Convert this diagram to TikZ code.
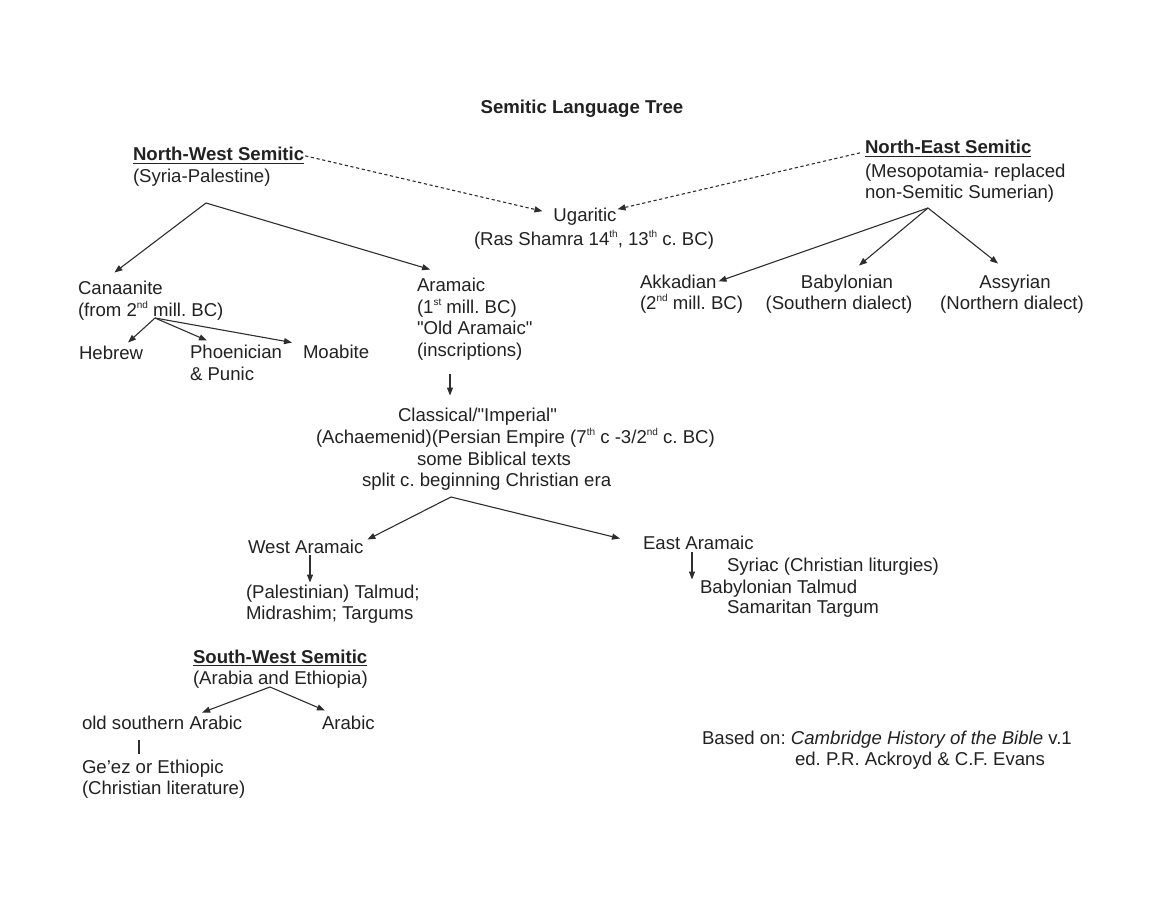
\documentclass[tikz,border=0pt]{standalone}
\usepackage{fontspec}
\setmainfont{Liberation Sans}[Ligatures=TeXOff]
\usetikzlibrary{arrows.meta}
\definecolor{txt}{HTML}{222222}
\definecolor{ln}{HTML}{2E2E2E}
\newcommand\myul[1]{\setbox0\hbox{#1}\rlap{\rule[-3.2pt]{\wd0}{1.3pt}}\box0}
\newcommand\sups[1]{\raisebox{0.42em}{\fontsize{10}{10}\selectfont #1}}
\frenchspacing
\begin{document}
\frenchspacing
\begin{tikzpicture}[x=1pt,y=-1pt,
  every node/.style={inner sep=0pt,outer sep=0pt,text=txt,font=\fontsize{18.6}{21.7}\selectfont\frenchspacing},
  lab/.style={anchor=base west},
  cen/.style={anchor=base},
  head/.style={anchor=base west,font=\fontsize{18.6}{21.7}\selectfont\bfseries},
  arr/.style={draw=ln,line width=1.1pt,-{Triangle[length=8pt,width=6pt]}},
  darr/.style={draw=ln,line width=1.1pt,dash pattern=on 3.2pt off 2.6pt,-{Triangle[length=8pt,width=6pt]}},
  plain/.style={draw=ln,line width=1.3pt}]
\fill[white] (0,0) rectangle (1150,901);
\useasboundingbox (0,0) rectangle (1150,901);

% title
\node[cen,font=\fontsize{18.6}{21.7}\selectfont\bfseries] (title) at (582,114) {Semitic Language Tree};

% North-West
\node[head] (nw) at (133,161) {\myul{North-West Semitic}};
\node[lab] (nw2) at (133,183) {(Syria-Palestine)};
\coordinate (nwb) at (206,203);

% Ugaritic
\node[cen] (ug) at (585,222) {Ugaritic};
\node[cen] (ug2) at (594,245) {(Ras Shamra 14\sups{th}, 13\sups{th} c. BC)};

% North-East
\node[head] (ne) at (865,154) {\myul{North-East Semitic}};
\node[lab] (ne2) at (865,178) {(Mesopotamia- replaced};
\node[lab] (ne3) at (865,199) {non-Semitic Sumerian)};
\coordinate (neb) at (928,208);

\node[lab] (akk) at (640,288) {Akkadian};
\node[lab] (akk2) at (640,309) {(2\sups{nd} mill. BC)};
\node[cen] (bab) at (847,288) {Babylonian};
\node[cen] (bab2) at (839,309) {(Southern dialect)};
\node[cen] (ass) at (1015,288) {Assyrian};
\node[cen] (ass2) at (1012,309) {(Northern dialect)};

% Canaanite
\node[lab] (can) at (78,294) {Canaanite};
\node[lab] (can2) at (78,316) {(from 2\sups{nd} mill. BC)};
\coordinate (canb) at (155,318);
\node[lab] (heb) at (79,359) {Hebrew};
\node[lab] (pho) at (190,358) {Phoenician};
\node[lab] (pho2) at (190,380) {\& Punic};
\node[lab] (moa) at (303,358) {Moabite};

% Aramaic
\node[lab] (ar) at (417,291) {Aramaic};
\node[lab] (ar2) at (417,313) {(1\sups{st} mill. BC)};
\node[lab] (ar3) at (417,334) {"Old Aramaic"};
\node[lab] (ar4) at (417,356) {(inscriptions)};

% Classical
\node[lab] (cl1) at (398,421) {Classical/"Imperial"};
\node[lab] (cl2) at (316,443) {(Achaemenid)(Persian Empire (7\sups{th} c -3/2\sups{nd} c. BC)};
\node[lab] (cl3) at (417,465) {some Biblical texts};
\node[lab] (cl4) at (362,486) {split c. beginning Christian era};
\coordinate (clb) at (451,497);

% West / East Aramaic
\node[lab] (wa) at (248,553) {West Aramaic};
\node[lab] (pt1) at (246,598) {(Palestinian) Talmud;};
\node[lab] (pt2) at (246,619) {Midrashim; Targums};
\node[lab] (ea) at (643,549) {East Aramaic};
\node[lab] (sy) at (727,571) {Syriac (Christian liturgies)};
\node[lab] (bt) at (700,593) {Babylonian Talmud};
\node[lab] (st) at (727,613) {Samaritan Targum};

% South-West
\node[head] (sw) at (193,663) {\myul{South-West Semitic}};
\node[lab] (sw2) at (193,684) {(Arabia and Ethiopia)};
\coordinate (swb) at (270,687);
\node[lab] (osa) at (82,729) {old southern Arabic};
\node[lab] (arb) at (322,729) {Arabic};
\node[lab] (ge) at (82,773) {Ge’ez or Ethiopic};
\node[lab] (ge2) at (82,794) {(Christian literature)};

% source
\node[lab] (src) at (702,744) {Based on: \textit{Cambridge History of the Bible} v.1};
\node[lab] (src2) at (795,765) {ed. P.R. Ackroyd \& C.F. Evans};

% connectors
\draw[darr] ([xshift=1pt]nw.east) -- ([shift={(-11pt,6pt)}]ug.west);
\draw[darr] ([shift={(-5pt,-4pt)}]ne.west) -- ([shift={(1pt,8pt)}]ug.east);

\draw[arr] (nwb) -- ([shift={(-6pt,8pt)}]can.north);
\draw[arr] (nwb) -- ([shift={(-21pt,8pt)}]ar.north);

\draw[arr] (neb) -- ([xshift=2pt]akk.east);
\draw[arr] (neb) -- ([shift={(12pt,9pt)}]bab.north);
\draw[arr] (neb) -- ([shift={(-17pt,11pt)}]ass.north);

\draw[arr] (canb) -- ([shift={(17pt,3pt)}]heb.north);
\draw[arr] (canb) -- ([shift={(-29pt,4pt)}]pho.north);
\draw[arr] (canb) -- ([shift={(-11pt,2pt)}]moa.north west);

\draw[arr] ([shift={(33pt,-14pt)}]ar4.south west) -- ([shift={(52pt,12pt)}]cl1.north west);

\draw[arr] (clb) -- ([shift={(4pt,0pt)}]wa.north east);
\draw[arr] (clb) -- ([shift={(-23pt,-3pt)}]ea.north west);

\draw[arr] ([shift={(62pt,-2pt)}]wa.south west) -- ([shift={(64pt,2pt)}]pt1.north west);
\draw[arr] ([shift={(49pt,-3pt)}]ea.south west) -- ([shift={(-8pt,0pt)}]bt.north west);

\draw[arr] (swb) -- ([shift={(40pt,3pt)}]osa.north);
\draw[arr] (swb) -- ([shift={(3pt,5pt)}]arb.north west);
\draw[plain] ([shift={(57pt,-11pt)}]osa.south west) -- ([shift={(57pt,6pt)}]ge.north west);
\end{tikzpicture}
\end{document}
